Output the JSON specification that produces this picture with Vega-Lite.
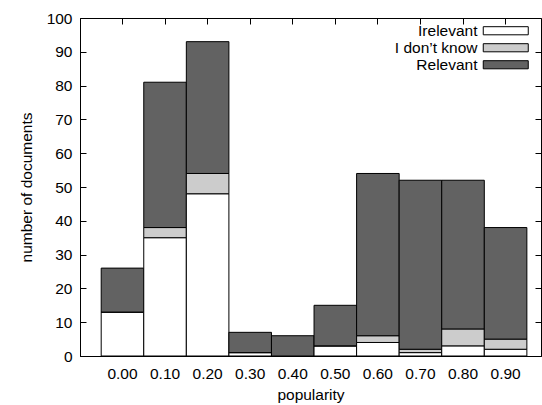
{
  "$schema": "https://vega.github.io/schema/vega-lite/v6.json",
  "width": 461,
  "height": 338,
  "autosize": {"type": "none"},
  "padding": {"left": 80, "top": 18, "right": 1, "bottom": 49},
  "background": "white",
  "config": {
    "font": "Liberation Sans",
    "view": {"stroke": "black", "strokeWidth": 1},
    "axis": {
      "domainColor": "black",
      "tickColor": "black",
      "labelColor": "black",
      "titleColor": "black",
      "labelFontSize": 15.5,
      "titleFontSize": 15.5,
      "titleFontWeight": "normal",
      "grid": false
    }
  },
  "data": {
    "values": [
      {"popularity": "0.00", "category": "Irelevant", "k": 0, "count": 13},
      {"popularity": "0.00", "category": "I don’t know", "k": 1, "count": 0},
      {"popularity": "0.00", "category": "Relevant", "k": 2, "count": 13},
      {"popularity": "0.10", "category": "Irelevant", "k": 0, "count": 35},
      {"popularity": "0.10", "category": "I don’t know", "k": 1, "count": 3},
      {"popularity": "0.10", "category": "Relevant", "k": 2, "count": 43},
      {"popularity": "0.20", "category": "Irelevant", "k": 0, "count": 48},
      {"popularity": "0.20", "category": "I don’t know", "k": 1, "count": 6},
      {"popularity": "0.20", "category": "Relevant", "k": 2, "count": 39},
      {"popularity": "0.30", "category": "Irelevant", "k": 0, "count": 1},
      {"popularity": "0.30", "category": "I don’t know", "k": 1, "count": 0},
      {"popularity": "0.30", "category": "Relevant", "k": 2, "count": 6},
      {"popularity": "0.40", "category": "Irelevant", "k": 0, "count": 0},
      {"popularity": "0.40", "category": "I don’t know", "k": 1, "count": 0},
      {"popularity": "0.40", "category": "Relevant", "k": 2, "count": 6},
      {"popularity": "0.50", "category": "Irelevant", "k": 0, "count": 3},
      {"popularity": "0.50", "category": "I don’t know", "k": 1, "count": 0},
      {"popularity": "0.50", "category": "Relevant", "k": 2, "count": 12},
      {"popularity": "0.60", "category": "Irelevant", "k": 0, "count": 4},
      {"popularity": "0.60", "category": "I don’t know", "k": 1, "count": 2},
      {"popularity": "0.60", "category": "Relevant", "k": 2, "count": 48},
      {"popularity": "0.70", "category": "Irelevant", "k": 0, "count": 1},
      {"popularity": "0.70", "category": "I don’t know", "k": 1, "count": 1},
      {"popularity": "0.70", "category": "Relevant", "k": 2, "count": 50},
      {"popularity": "0.80", "category": "Irelevant", "k": 0, "count": 3},
      {"popularity": "0.80", "category": "I don’t know", "k": 1, "count": 5},
      {"popularity": "0.80", "category": "Relevant", "k": 2, "count": 44},
      {"popularity": "0.90", "category": "Irelevant", "k": 0, "count": 2},
      {"popularity": "0.90", "category": "I don’t know", "k": 1, "count": 3},
      {"popularity": "0.90", "category": "Relevant", "k": 2, "count": 33}
    ]
  },
  "layer": [
    {
      "mark": {"type": "bar", "opacity": 0},
      "encoding": {
        "x": {
          "field": "popularity", "type": "ordinal",
          "scale": {"paddingInner": 0, "paddingOuter": 0.415, "align": 0.6},
          "axis": {"orient": "top", "labels": false, "title": null, "tickSize": -6, "domain": false}
        },
        "y": {
          "field": "count", "type": "quantitative", "stack": "zero",
          "scale": {"domain": [0, 100]},
          "axis": {"orient": "right", "labels": false, "title": null, "tickSize": -6, "domain": false, "values": [0,10,20,30,40,50,60,70,80,90,100]}
        },
        "order": {"field": "k", "type": "quantitative"}
      }
    },
    {
      "mark": {"type": "bar", "stroke": "black", "strokeWidth": 1, "opacity": 1},
      "encoding": {
        "x": {
          "field": "popularity", "type": "ordinal",
          "axis": {"orient": "bottom", "labelAngle": 0, "title": "popularity", "tickSize": -6, "labelPadding": 16, "titlePadding": 6}
        },
        "y": {
          "field": "count", "type": "quantitative", "stack": "zero",
          "axis": {"orient": "left", "title": "number of documents", "tickSize": -6, "labelPadding": 14, "titlePadding": 12, "values": [0,10,20,30,40,50,60,70,80,90,100]}
        },
        "color": {
          "field": "category", "type": "nominal",
          "scale": {"domain": ["Irelevant", "I don’t know", "Relevant"], "range": ["#ffffff", "#cccccc", "#626262"]},
          "legend": {
            "orient": "none", "legendX": 418, "legendY": 5, "title": null,
            "padding": 0,
            "symbolType": "M-5,-0.9H5V0.9H-5Z",
            "symbolSize": 81,
            "symbolStrokeColor": "black",
            "symbolStrokeWidth": 1,
            "labelAlign": "right",
            "labelOffset": -36,
            "labelFontSize": 15.5,
            "labelColor": "black",
            "rowPadding": -3.5
          }
        },
        "order": {"field": "k", "type": "quantitative"}
      }
    }
  ],
  "resolve": {"axis": {"x": "independent", "y": "independent"}}
}
